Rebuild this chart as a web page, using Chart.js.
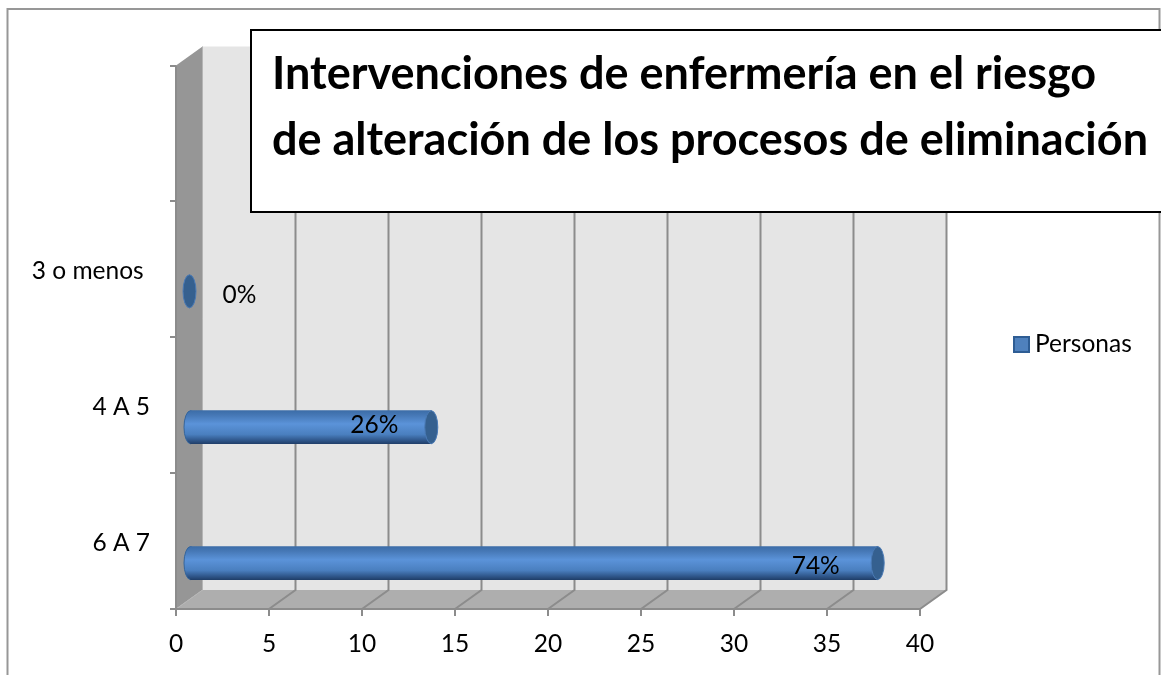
<!DOCTYPE html>
<html><head><meta charset="utf-8">
<style>html,body{margin:0;padding:0;background:#fff}canvas{display:block}</style>
<script src="https://cdn.jsdelivr.net/npm/chart.js@4"></script>
</head><body><canvas id="c" width="1161" height="675"></canvas>
<script>
const categories = ['', '3 o menos ', '4 A 5', '6 A 7'];
const personas = [null, 0, 13, 37];
const percentLabels = ['', '0%', '26%', '74%'];
const labelOffsetX = [0, 50, -57, -62];
const labelOffsetY = [0, 4, -2, 3];
const seriesName = 'Personas';
const titleLines = ['Intervenciones de enfermería en el riesgo', 'de alteración de los procesos de eliminación'];
const FONT = 'Lato, Carlito, sans-serif';
const GRID = '#8c8c8c';
const TEXT_SIZE = 24.5;
const DX = 26.5, DY = 19, BAR_DX = 13.5, BAR_DY = 22, BAR_H = 33, CAP_RX = 6.5;

function barGradient(ctx, cy) {
  if (!Number.isFinite(cy)) return '#4f81bd';
  const g = ctx.createLinearGradient(0, cy - BAR_H / 2, 0, cy + BAR_H / 2);
  g.addColorStop(0, '#3c6da8');
  g.addColorStop(0.14, '#4678b6');
  g.addColorStop(0.4, '#5b93d9');
  g.addColorStop(0.72, '#4a7fbf');
  g.addColorStop(0.9, '#2f568a');
  g.addColorStop(1, '#21406b');
  return g;
}

const scene = {
  id: 'scene',
  beforeDraw(chart) {
    const { ctx, chartArea: a, scales: { x } } = chart;
    ctx.save();
    ctx.strokeStyle = '#979797'; ctx.lineWidth = 2;
    ctx.beginPath(); ctx.moveTo(7.5, 675); ctx.lineTo(7.5, 9); ctx.lineTo(1159.5, 9); ctx.lineTo(1159.5, 675); ctx.stroke();
    // back wall
    ctx.fillStyle = '#e5e5e5';
    ctx.fillRect(a.left + DX, a.top - DY, a.right - a.left, a.bottom - a.top);
    // left wall
    ctx.fillStyle = '#969696';
    ctx.beginPath(); ctx.moveTo(a.left, a.top); ctx.lineTo(a.left + DX, a.top - DY); ctx.lineTo(a.left + DX, a.bottom - DY); ctx.lineTo(a.left, a.bottom); ctx.closePath(); ctx.fill();
    // floor
    ctx.fillStyle = '#aeaeae';
    ctx.beginPath(); ctx.moveTo(a.left, a.bottom); ctx.lineTo(a.left + DX, a.bottom - DY); ctx.lineTo(a.right + DX, a.bottom - DY); ctx.lineTo(a.right, a.bottom); ctx.closePath(); ctx.fill();
    // grid
    x.ticks.forEach(t => {
      const p = x.getPixelForValue(t.value);
      ctx.lineWidth = t.value === 0 ? 1 : 2;
      ctx.strokeStyle = t.value === 0 ? '#b5b5b5' : GRID;
      ctx.beginPath(); ctx.moveTo(p + DX, a.top - DY); ctx.lineTo(p + DX, a.bottom - DY); ctx.lineTo(p, a.bottom); ctx.stroke();
    });
    ctx.strokeStyle = GRID; ctx.lineWidth = 2;
    ctx.beginPath(); ctx.moveTo(a.left, a.top); ctx.lineTo(a.left, a.bottom); ctx.lineTo(a.right, a.bottom); ctx.stroke();
    ctx.restore();
  },
  beforeDatasetsDraw(chart) {
    const { ctx } = chart;
    ctx.save();
    ctx.translate(BAR_DX, BAR_DY);
    chart.getDatasetMeta(0).data.forEach((el, i) => {
      if (!personas[i]) return;
      ctx.beginPath();
      ctx.ellipse(el.base, el.y, CAP_RX, BAR_H / 2, 0, 0, Math.PI * 2);
      ctx.fillStyle = barGradient(ctx, el.y); ctx.fill();
      ctx.strokeStyle = '#35659c'; ctx.lineWidth = 1; ctx.stroke();
    });
  },
  afterDatasetsDraw(chart) {
    const { ctx } = chart;
    const els = chart.getDatasetMeta(0).data;
    els.forEach((el, i) => {
      if (personas[i] === null) return;
      ctx.beginPath();
      ctx.ellipse(el.x, el.y, CAP_RX, BAR_H / 2, 0, 0, Math.PI * 2);
      ctx.fillStyle = '#35608f'; ctx.fill();
      ctx.strokeStyle = '#4a7ab5'; ctx.lineWidth = 1; ctx.stroke();
    });
    ctx.restore();
    ctx.save();
    ctx.fillStyle = '#000'; ctx.font = TEXT_SIZE + 'px ' + FONT; ctx.textAlign = 'center'; ctx.textBaseline = 'middle';
    els.forEach((el, i) => {
      if (personas[i] === null) return;
      ctx.fillText(percentLabels[i], el.x + BAR_DX + labelOffsetX[i], el.y + BAR_DY + labelOffsetY[i]);
    });
    ctx.restore();
  },
  afterDraw(chart) {
    const { ctx } = chart;
    ctx.save();
    // legend
    ctx.fillStyle = '#4f81bd'; ctx.strokeStyle = '#2e5d94'; ctx.lineWidth = 2;
    ctx.fillRect(1014, 337, 15, 15); ctx.strokeRect(1014, 337, 15, 15);
    ctx.fillStyle = '#000'; ctx.font = TEXT_SIZE + 'px ' + FONT; ctx.textAlign = 'left'; ctx.textBaseline = 'alphabetic';
    ctx.fillText(seriesName, 1035, 352);
    // title box
    ctx.fillStyle = '#fff'; ctx.strokeStyle = '#000'; ctx.lineWidth = 2;
    ctx.beginPath(); ctx.moveTo(1162, 30); ctx.lineTo(251, 30); ctx.lineTo(251, 212); ctx.lineTo(1162, 212); ctx.fill(); ctx.stroke();
    ctx.fillStyle = '#000'; ctx.font = 'bold 45px ' + FONT;
    ctx.fillText(titleLines[0], 272, 89);
    ctx.fillText(titleLines[1], 272, 155);
    ctx.restore();
  }
};

new Chart(document.getElementById('c'), {
  type: 'bar',
  data: {
    labels: categories,
    datasets: [{
      label: seriesName,
      data: personas,
      barThickness: BAR_H,
      backgroundColor: c => {
        const s = c.chart.scales.y;
        return barGradient(c.chart.ctx, s && c.dataIndex !== undefined ? s.getPixelForValue(c.dataIndex) : NaN);
      },
      borderWidth: 0
    }]
  },
  options: {
    indexAxis: 'y',
    responsive: false,
    animation: false,
    layout: { padding: { top: 65.5, right: 241, left: 0, bottom: 0 } },
    plugins: { legend: { display: false }, title: { display: false }, tooltip: { enabled: false } },
    scales: {
      x: {
        min: 0, max: 40,
        ticks: { stepSize: 5, color: '#000', font: { family: FONT, size: TEXT_SIZE }, padding: 13, maxRotation: 0 },
        grid: { drawOnChartArea: false, drawTicks: true, tickLength: 7, color: GRID, lineWidth: 2 },
        border: { display: false },
        afterFit(s) { s.height = 66; }
      },
      y: {
        ticks: { color: '#000', font: { family: FONT, size: TEXT_SIZE }, padding: 20, autoSkip: false, labelOffset: 2 },
        grid: { drawOnChartArea: false, drawTicks: true, tickLength: 6, offset: true, color: GRID, lineWidth: 2 },
        border: { display: false },
        afterFit(s) { s.width = 176; }
      }
    }
  },
  plugins: [scene]
});
</script></body></html>
